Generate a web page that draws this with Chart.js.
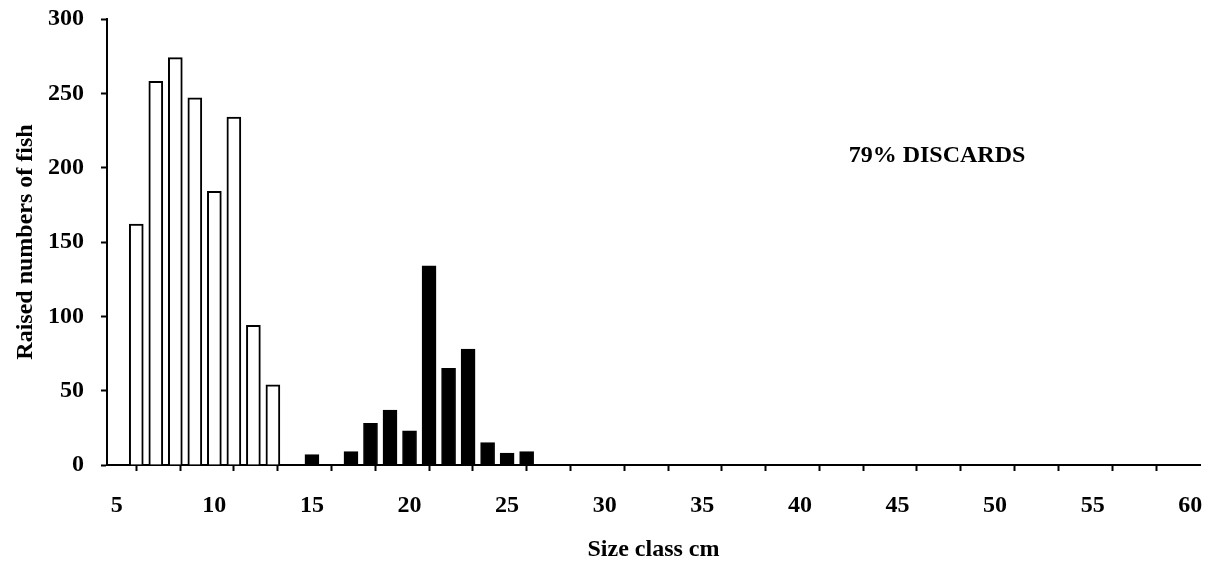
<!DOCTYPE html>
<html>
<head>
<meta charset="utf-8">
<script src="https://cdn.jsdelivr.net/npm/chart.js@4/dist/chart.umd.min.js"></script>
<style>
  html, body { margin: 0; padding: 0; background: #fff; }
</style>
</head>
<body>
<canvas id="myChart" width="1216" height="567"></canvas>
<script>
// size classes (cm) and raised numbers of fish
const discardSizes = [6, 7, 8, 9, 10, 11, 12, 13];
const discardCounts = [162, 258, 274, 247, 184, 234, 94, 54];
const landedSizes = [15, 17, 18, 19, 20, 21, 22, 23, 24, 25, 26];
const landedCounts = [7, 9, 28, 37, 23, 134, 65, 78, 15, 8, 9];

// axis ticks
const xLabelValues = [5, 10, 15, 20, 25, 30, 35, 40, 45, 50, 55, 60];
const xMarkValues = [4.5, 7, 9.5, 12, 14.5, 17, 19.5, 22, 24.5, 27, 29.5, 32, 34.5, 37, 39.5, 42, 44.5, 47, 49.5, 52, 54.5, 57, 59.5];
const yTickValues = [0, 50, 100, 150, 200, 250, 300];

const noteText = '79% DISCARDS';
const notePos = { x: 42.5, y: 208 };

const FONT = { family: '"Liberation Serif", "Times New Roman", serif', size: 24, weight: 'bold' };

const notePlugin = {
  id: 'discardNote',
  afterDraw: (chart) => {
    const ctx = chart.ctx;
    ctx.save();
    ctx.font = 'bold 24px "Liberation Serif", serif';
    ctx.fillStyle = '#000';
    ctx.textAlign = 'left';
    ctx.textBaseline = 'middle';
    ctx.fillText(noteText, chart.scales.x.getPixelForValue(notePos.x), chart.scales.y.getPixelForValue(notePos.y));
    ctx.restore();
  },
};

const bgPlugin = {
  id: 'white_bg',
  beforeDraw: (chart) => {
    const ctx = chart.ctx;
    ctx.save();
    ctx.fillStyle = 'white';
    ctx.fillRect(0, 0, chart.width, chart.height);
    ctx.restore();
  },
};

const allXTicks = [...new Set([...xMarkValues, ...xLabelValues])].sort((a, b) => a - b);

new Chart(document.getElementById('myChart'), {
  type: 'bar',
  data: {
    datasets: [
      {
        label: 'Discards',
        data: discardSizes.map((s, i) => ({ x: s, y: discardCounts[i] })),
        backgroundColor: '#fff',
        borderColor: '#000',
        borderWidth: 2,
        grouped: false,
        barThickness: 14,
      },
      {
        label: 'Landed',
        data: landedSizes.map((s, i) => ({ x: s, y: landedCounts[i] })),
        backgroundColor: '#000',
        borderColor: '#000',
        borderWidth: 1,
        grouped: false,
        barThickness: 14,
      },
    ],
  },
  options: {
    responsive: false,
    animation: false,
    devicePixelRatio: 1,
    layout: { padding: { top: 19, right: 16, left: 0, bottom: 0 } },
    plugins: {
      legend: { display: false },
      tooltip: { enabled: false },
    },
    scales: {
      x: {
        type: 'linear',
        offset: false,
        min: 4.5,
        max: 60.5,
        afterBuildTicks: (scale) => {
          scale.ticks = allXTicks.map((v) => ({ value: v }));
        },
        afterFit: (scale) => {
          scale.height = 102;
          scale.paddingLeft = 0;
          scale.paddingRight = 0;
        },
        ticks: {
          autoSkip: false,
          maxRotation: 0,
          minRotation: 0,
          padding: 20,
          color: '#000',
          font: FONT,
          callback: (v) => (xLabelValues.includes(v) ? String(v) : ''),
        },
        grid: {
          drawOnChartArea: false,
          drawTicks: true,
          tickLength: 6,
          tickWidth: 2,
          tickColor: (ctx) => (ctx.tick && xMarkValues.includes(ctx.tick.value) ? '#000' : 'rgba(0,0,0,0)'),
        },
        border: { display: true, color: '#000', width: 2 },
        title: {
          display: true,
          text: 'Size class cm',
          color: '#000',
          font: FONT,
          padding: { top: 0, bottom: 3 },
        },
      },
      y: {
        min: 0,
        max: 300,
        afterBuildTicks: (scale) => {
          scale.ticks = yTickValues.map((v) => ({ value: v }));
        },
        afterFit: (scale) => {
          scale.width = 107;
          scale.paddingTop = 0;
          scale.paddingBottom = 0;
        },
        ticks: {
          padding: 17,
          color: '#000',
          font: FONT,
        },
        grid: {
          drawOnChartArea: false,
          drawTicks: true,
          tickLength: 6,
          tickWidth: 2,
          tickColor: '#000',
        },
        border: { display: true, color: '#000', width: 2 },
        title: {
          display: true,
          text: 'Raised numbers of fish',
          color: '#000',
          font: FONT,
          padding: { top: 11, bottom: 0 },
        },
      },
    },
  },
  plugins: [bgPlugin, notePlugin],
});
</script>
</body>
</html>
